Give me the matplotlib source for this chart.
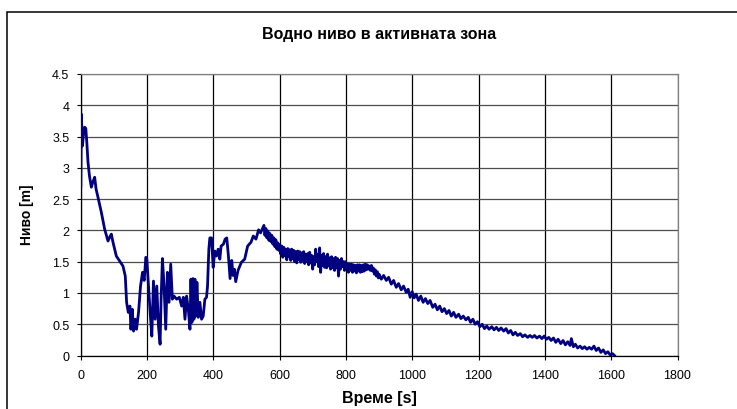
"""Water level in the reactor core versus time."""

import matplotlib

matplotlib.use("Agg")
import matplotlib.pyplot as plt
from matplotlib.patches import Rectangle

plt.rcParams["font.family"] = ["Liberation Sans", "DejaVu Sans"]

TITLE = "Водно ниво в активната зона"
X_LABEL = "Време [s]"
Y_LABEL = "Ниво [m]"

x_ticks = [0, 200, 400, 600, 800, 1000, 1200, 1400, 1600, 1800]
y_ticks = [0, 0.5, 1, 1.5, 2, 2.5, 3, 3.5, 4, 4.5]
y_tick_labels = ["0", "0.5", "1", "1.5", "2", "2.5", "3", "3.5", "4", "4.5"]

# values, split into stretches of time
# 0-200 s: initial drop
t_drop = [1, 2.5, 6, 9, 12.6, 16, 19, 22.6, 27, 32.7, 37, 42.7, 47, 52.7,
          62.8, 72.8, 82.9, 88, 92.9, 98, 108, 118, 128, 135, 139, 144, 149,
          152, 156, 160, 165, 169, 175, 181, 187, 192, 197]
h_drop = [2.71, 3.86, 3.35, 3.54, 3.65, 3.63, 3.41, 3.09, 2.87, 2.69, 2.77,
          2.85, 2.66, 2.53, 2.29, 2.02, 1.83, 1.89, 1.94, 1.81, 1.59, 1.51,
          1.43, 1.27, 0.85, 0.69, 0.79, 0.42, 0.74, 0.39, 0.58, 0.42, 0.69,
          1.11, 1.33, 1.20, 1.57]

# 200-550 s: oscillations and recovery
t_osc = [200, 205, 210, 215, 220, 225, 230, 235, 240, 243, 247, 252, 257,
         262, 267, 272, 277, 282, 290, 298, 305, 310, 315, 320, 325, 330,
         333, 336, 339, 342, 345, 348, 351, 355, 360, 365, 370, 375, 380,
         383, 387, 390, 395, 400, 405, 410, 415, 420, 424, 431, 436, 441,
         446, 451, 456, 460, 464, 468, 475, 485, 495, 504, 514, 521, 529,
         537, 543]
h_osc = [1.54, 1.11, 0.69, 0.31, 1.19, 0.58, 1.11, 0.47, 0.18, 0.90, 1.55,
         1.11, 0.42, 1.33, 0.85, 1.46, 0.90, 0.95, 0.90, 0.93, 0.79, 0.93,
         0.58, 0.95, 0.74, 0.42, 1.22, 0.53, 1.23, 0.58, 1.22, 0.63, 1.17,
         0.61, 0.85, 0.58, 0.63, 0.90, 0.93, 1.11, 1.70, 1.88, 1.88, 1.41,
         1.67, 1.59, 1.70, 1.54, 1.75, 1.78, 1.86, 1.88, 1.59, 1.23, 1.52,
         1.28, 1.38, 1.18, 1.36, 1.49, 1.54, 1.75, 1.81, 1.91, 1.86, 2.01,
         1.96]

# 550-900 s: slow noisy decline
t_plateau = [553, 556, 559, 562, 565, 568, 571, 574, 577, 580, 583, 586, 589,
             592, 595, 598, 601, 604, 607, 610, 613, 616, 619, 622, 625, 628,
             631, 634, 637, 640, 643, 646, 649, 652, 655, 658, 661, 664, 667,
             670, 673, 676, 679, 682, 685, 688, 691, 694, 697, 700, 703, 706,
             709, 712, 715, 718, 721, 724, 727, 730, 733, 736, 739, 742, 745,
             748, 751, 754, 757, 760, 763, 766, 769, 772, 775, 778, 781, 784,
             787, 790, 793, 796, 799, 802, 805, 808, 811, 814, 817, 820, 823,
             826, 829, 832, 835, 838, 841, 844, 847, 850, 853, 856, 859, 862,
             865, 868, 871, 874, 877, 880, 883, 886, 889, 892, 895, 898]
h_plateau = [2.08, 1.92, 2.03, 1.88, 1.99, 1.84, 1.95, 1.82, 1.92, 1.78, 1.88,
             1.74, 1.85, 1.70, 1.80, 1.68, 1.77, 1.62, 1.75, 1.57, 1.73, 1.60,
             1.70, 1.53, 1.71, 1.58, 1.69, 1.52, 1.70, 1.55, 1.68, 1.50, 1.66,
             1.48, 1.67, 1.53, 1.66, 1.49, 1.64, 1.52, 1.66, 1.47, 1.62, 1.50,
             1.63, 1.45, 1.65, 1.48, 1.60, 1.38, 1.58, 1.45, 1.70, 1.50, 1.62,
             1.42, 1.72, 1.33, 1.60, 1.44, 1.63, 1.41, 1.58, 1.40, 1.62, 1.43,
             1.56, 1.38, 1.58, 1.40, 1.55, 1.36, 1.57, 1.40, 1.55, 1.27, 1.52,
             1.38, 1.55, 1.42, 1.50, 1.36, 1.50, 1.40, 1.47, 1.33, 1.46, 1.36,
             1.46, 1.33, 1.45, 1.35, 1.44, 1.32, 1.45, 1.35, 1.45, 1.33, 1.44,
             1.34, 1.45, 1.35, 1.46, 1.37, 1.45, 1.38, 1.43, 1.36, 1.44, 1.35,
             1.40, 1.30, 1.37, 1.27, 1.34, 1.24]

# 900-1610 s: drain-down
t_drain = [900, 907, 914, 922, 929, 937, 944, 952, 959, 967, 974, 982, 988,
           994, 1000, 1006, 1012, 1019, 1026, 1033, 1040, 1047, 1054, 1062,
           1069, 1076, 1083, 1090, 1097, 1104, 1111, 1118, 1125, 1132, 1140,
           1147, 1154, 1162, 1169, 1176, 1183, 1190, 1197, 1204, 1211, 1218,
           1225, 1232, 1240, 1247, 1254, 1261, 1268, 1276, 1283, 1290, 1297,
           1304, 1311, 1318, 1326, 1333, 1340, 1348, 1355, 1362, 1369, 1376,
           1384, 1391, 1398, 1405, 1412, 1419, 1426, 1433, 1440, 1448, 1455,
           1462, 1469, 1476, 1480, 1486, 1492, 1499, 1506, 1513, 1520, 1527,
           1534, 1541, 1548, 1555, 1562, 1569, 1576, 1583, 1590, 1597, 1604,
           1610]
h_drain = [1.30, 1.22, 1.28, 1.20, 1.25, 1.14, 1.20, 1.09, 1.15, 1.05, 1.11,
           1.01, 1.06, 0.93, 1.02, 0.92, 0.98, 0.88, 0.95, 0.85, 0.91, 0.83,
           0.88, 0.77, 0.82, 0.73, 0.79, 0.70, 0.75, 0.67, 0.72, 0.63, 0.69,
           0.61, 0.66, 0.59, 0.63, 0.57, 0.61, 0.53, 0.58, 0.50, 0.54, 0.46,
           0.50, 0.43, 0.47, 0.42, 0.46, 0.41, 0.45, 0.40, 0.44, 0.39, 0.43,
           0.36, 0.40, 0.33, 0.37, 0.32, 0.35, 0.30, 0.33, 0.29, 0.32, 0.29,
           0.32, 0.28, 0.31, 0.27, 0.31, 0.26, 0.29, 0.24, 0.28, 0.21, 0.26,
           0.19, 0.24, 0.17, 0.22, 0.16, 0.27, 0.14, 0.18, 0.12, 0.15, 0.11,
           0.14, 0.10, 0.13, 0.10, 0.15, 0.08, 0.12, 0.05, 0.09, 0.03, 0.06,
           0.01, 0.03, 0.00]

time_s = t_drop + t_osc + t_plateau + t_drain
level_m = h_drop + h_osc + h_plateau + h_drain
assert len(time_s) == len(level_m)

fig = plt.figure(figsize=(7.37, 4.10), dpi=100)
fig.patch.set_facecolor("white")

# outer chart-area frame (only top and left edges fall inside the picture)
fig.add_artist(Rectangle((7 / 737, -0.2), 1.2, 0.2 + (410 - 12.5) / 410,
                         transform=fig.transFigure, fill=False,
                         ec="black", lw=1.1))

ax = fig.add_axes([80.5 / 737, 1 - 356.5 / 410, 597 / 737, 281.5 / 410])
ax.plot(time_s, level_m, color="#000080", lw=2.0, solid_joinstyle="round", zorder=3)

ax.set_xlim(0, 1800)
ax.set_ylim(0, 4.5)
ax.set_xticks(x_ticks)
ax.set_yticks(y_ticks)
ax.set_yticklabels(y_tick_labels)

ax.xaxis.grid(True, color="black", lw=0.9)
ax.yaxis.grid(True, color="#4d4d4d", lw=0.9)
ax.set_axisbelow(True)

for side in ("top", "right"):
    ax.spines[side].set_color("#808080")
    ax.spines[side].set_linewidth(0.9)
for side in ("left", "bottom"):
    ax.spines[side].set_color("black")
    ax.spines[side].set_linewidth(0.9)

ax.tick_params(axis="both", direction="out", length=3, width=0.8, labelsize=9)
ax.tick_params(axis="x", pad=7)
ax.tick_params(axis="y", pad=5)

fig.text(379 / 737, 1 - 34 / 410, TITLE, ha="center", va="center",
         fontsize=11.5, fontweight="bold")
fig.text(379 / 737, 1 - 399 / 410, X_LABEL, ha="center", va="center",
         fontsize=11.5, fontweight="bold")
fig.text(27.5 / 737, 1 - 215 / 410, Y_LABEL, ha="center", va="center",
         rotation=90, fontsize=10, fontweight="bold")

fig.savefig("out.png", dpi=100, facecolor="white")
